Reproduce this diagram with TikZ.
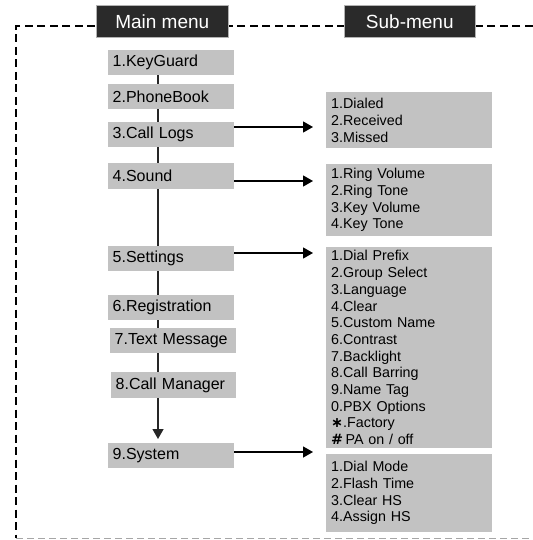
\documentclass[tikz,border=0pt]{standalone}
\usepackage{fontspec}
\setmainfont{Liberation Sans}
\newfontfamily\symfont{DejaVu Sans}
\usetikzlibrary{arrows.meta}
\definecolor{boxgray}{RGB}{194,194,194}
\definecolor{headdark}{RGB}{42,42,42}
\tikzset{
  mainbox/.style={fill=boxgray, anchor=north west, minimum height=25pt,
    inner xsep=4.5pt, inner ysep=0pt, text width=117pt, align=left,
    font=\fontsize{16}{18}\selectfont},
  subbox/.style={fill=boxgray, anchor=north west, inner xsep=5pt, inner ysep=0pt,
    text width=156pt, align=left, font=\fontsize{14.3}{16.7}\selectfont},
  headbox/.style={fill=headdark, draw=gray!60, line width=0.6pt, anchor=north west,
    minimum height=32pt, minimum width=132pt, inner sep=0pt, text=white,
    font=\fontsize{19}{21}\selectfont},
  spine/.style={line width=1.3pt, draw=black!85},
  arr/.style={line width=1.3pt, -{Triangle[length=10pt,width=11pt]}, shorten >=13pt},
  framedash/.style={line width=1.5pt, dash pattern=on 8pt off 4.5pt},
}
\begin{document}
\begin{tikzpicture}[x=1pt,y=-1pt]
\useasboundingbox (0,0) rectangle (532,540);
% dashed frame
\draw[framedash] (545,26) -- (16,26) -- (16,538);
\draw[line width=1pt, draw=gray!70, dash pattern=on 7pt off 4pt] (16,538) -- (545,538);
% headers
\node[headbox] (hm) at (96,5) {Main menu};
\node[headbox, minimum width=131pt] (hs) at (344,5) {Sub-menu};
% main menu boxes
\node[mainbox] (b1) at (108,50) {1.KeyGuard};
\node[mainbox] (b2) at (108,84) {2.PhoneBook};
\node[mainbox] (b3) at (108,122) {3.Call Logs};
\node[mainbox, minimum height=26pt] (b4) at (108,163) {4.Sound};
\node[mainbox] (b5) at (108,246) {5.Settings};
\node[mainbox] (b6) at (108,295) {6.Registration};
\node[mainbox, text width=117pt] (b7) at (110,328) {7.Text Message};
\node[mainbox, text width=116pt, minimum height=26pt] (b8) at (111,372) {8.Call Manager};
\node[mainbox] (b9) at (108,443) {9.System};
% spine
\coordinate (sp) at (158,0);
\draw[spine] (b1.south -| sp) -- (b2.north -| sp);
\draw[spine] (b2.south -| sp) -- (b3.north -| sp);
\draw[spine] (b3.south -| sp) -- (b4.north -| sp);
\draw[spine] (b4.south -| sp) -- (b5.north -| sp);
\draw[spine] (b5.south -| sp) -- (b6.north -| sp);
\draw[spine] (b6.south -| sp) -- (b7.north -| sp);
\draw[spine] (b7.south -| sp) -- (b8.north -| sp);
\draw[spine, -{Triangle[length=10pt,width=11pt]}, shorten >=4pt] (b8.south -| sp) -- (b9.north -| sp);
% sub menus
\node[subbox, minimum height=56pt] (s3) at (326,92) {1.Dialed\\2.Received\\3.Missed};
\node[subbox, minimum height=72pt] (s4) at (326,164) {1.Ring Volume\\2.Ring Tone\\3.Key Volume\\4.Key Tone};
\node[subbox, minimum height=201pt] (s5) at (326,247) {1.Dial Prefix\\2.Group Select\\3.Language\\4.Clear\\5.Custom Name\\6.Contrast\\7.Backlight\\8.Call Barring\\9.Name Tag\\0.PBX Options\\{\symfont\bfseries ∗}.Factory\\{\symfont\bfseries\#}\,PA on / off};
\node[subbox, minimum height=78pt] (s9) at (326,454) {1.Dial Mode\\2.Flash Time\\3.Clear HS\\4.Assign HS};
% arrows
\draw[arr] (b3.east |- 0,127) -- (s3.west |- 0,127);
\draw[arr] (b4.east |- 0,181) -- (s4.west |- 0,181);
\draw[arr] (b5.east |- 0,253) -- (s5.west |- 0,253);
\draw[arr] (b9.east |- 0,452) -- (s9.west |- 0,452);
\end{tikzpicture}
\end{document}
